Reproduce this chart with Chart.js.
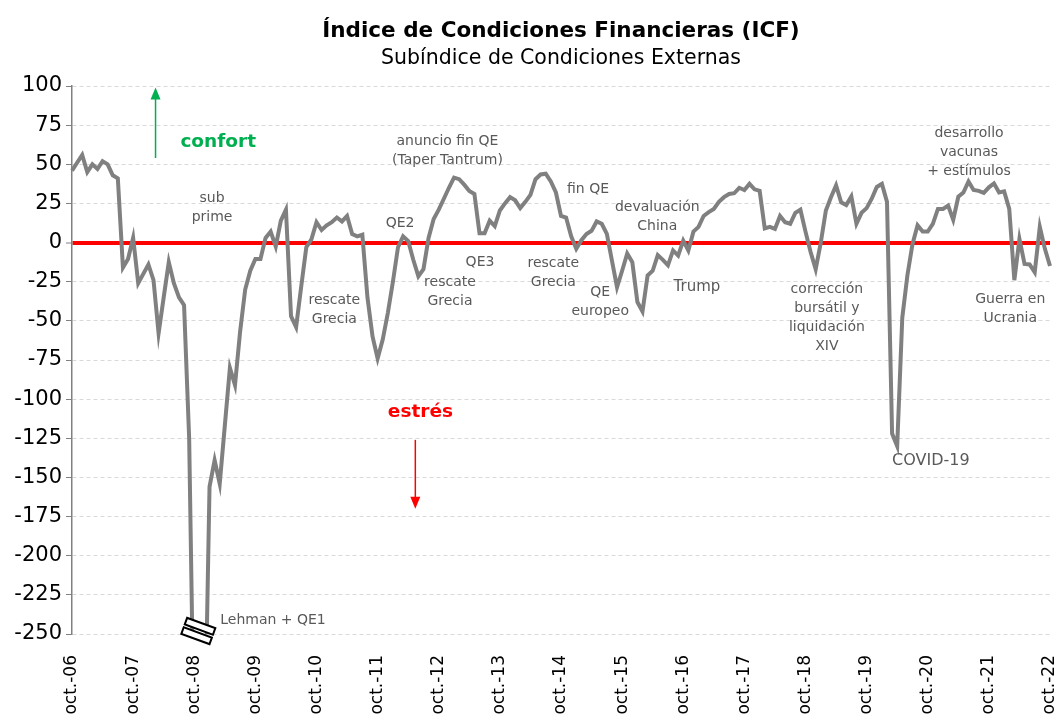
<!DOCTYPE html>
<html>
<head>
<meta charset="utf-8">
<script src="https://cdn.jsdelivr.net/npm/chart.js"></script>
<style>
  body { margin: 0; padding: 0; background: #ffffff; }
  canvas { display: block; }
</style>
</head>
<body>
<canvas id="icfChart" width="1062" height="715"></canvas>
<script>
  // Subíndice de condiciones externas, mensual, oct-06 .. oct-22
  const icf = [
    46, 51, 56, 45, 50, 47, 52, 50, 43, 41, -16, -10.5,
    3, -26, -20, -14, -24, -58, -35, -12.5, -26, -35, -40, -125,
    -330, -330, -330, -156, -139, -154, -117, -80, -91, -57, -30, -18,
    -10.5, -10.5, 3, 7, -2.5, 14, 21, -47, -54, -28, -3, 2,
    13, 8, 11, 13, 16, 13.5, 17, 5.5, 4, 5, -35, -60,
    -74, -62, -45, -25, -3, 4, 1, -11, -21.5, -17, 3, 15,
    21, 28, 35, 41.5, 40.5, 37, 33, 31, 6, 6, 14, 10.5,
    20.5, 25, 29, 27, 22, 26, 30.5, 40.5, 43.5, 44, 39, 32,
    17, 16, 4, -4, 1.5, 5.5, 7.5, 13.5, 12, 5.5, -11.5, -28.5,
    -18, -7, -12.5, -38, -44, -21, -18, -8, -11, -14.5, -5, -8.3,
    1.3, -5, 7, 10, 17, 19.5, 21.5, 26, 29, 31, 31.5, 35,
    33.6, 37.5, 34, 33, 9, 10, 8.7, 17, 13, 12, 19, 21,
    7, -6, -17, 0, 20.5, 29, 36.5, 25.7, 24, 29.5, 12, 19,
    22, 28, 35.5, 37.5, 26, -122, -130, -48, -21, -1, 11, 7,
    7, 12, 21.5, 21.5, 23.6, 14.5, 29.3, 32, 39, 33.6, 33, 31.7,
    35.3, 37.8, 32, 32.7, 21.5, -24, 2.4, -13.6, -14, -19, 10, -4,
    -15
  ];

  const meses = ['ene.', 'feb.', 'mar.', 'abr.', 'may.', 'jun.', 'jul.', 'ago.', 'sep.', 'oct.', 'nov.', 'dic.'];
  const mesInicio = 9;   // octubre
  const anioInicio = 6;  // 2006

  const etiquetas = icf.map((_, i) => {
    const m = (mesInicio + i) % 12;
    const a = anioInicio + Math.floor((mesInicio + i) / 12);
    return meses[m] + '-' + String(a).padStart(2, '0');
  });

  // textos sobre el grafico: m = mes (indice), v = valor del eje
  const notas = [
    { m: 27.5, v: 28, txt: ['sub', 'prime'] },
    { m: 51.5, v: -37, txt: ['rescate', 'Grecia'] },
    { m: 64.4, v: 12.5, txt: ['QE2'] },
    { m: 73.7, v: 64.5, txt: ['anuncio fin QE', '(Taper Tantrum)'] },
    { m: 74.2, v: -25.5, txt: ['rescate', 'Grecia'] },
    { m: 80.1, v: -12.8, txt: ['QE3'] },
    { m: 94.5, v: -13.4, txt: ['rescate', 'Grecia'] },
    { m: 101.3, v: 33.8, txt: ['fin QE'] },
    { m: 103.7, v: -31.9, txt: ['QE', 'europeo'] },
    { m: 114.9, v: 22.3, txt: ['devaluación', 'China'] },
    { m: 122.7, v: -28.7, txt: ['Trump'], size: 15 },
    { m: 148.2, v: -30, txt: ['corrección', 'bursátil y', 'liquidación', 'XIV'] },
    { m: 168.6, v: -139.7, txt: ['COVID-19'], size: 16 },
    { m: 176.1, v: 69.5, txt: ['desarrollo', 'vacunas', '+ estímulos'] },
    { m: 184.2, v: -36, txt: ['Guerra en', 'Ucrania'] }
  ];

  const FUENTE = "'DejaVu Sans', Verdana, sans-serif";

  function flecha(ctx, x, y1, y2, color) {
    const dir = y2 < y1 ? -1 : 1;
    ctx.save();
    ctx.strokeStyle = color;
    ctx.fillStyle = color;
    ctx.lineWidth = 1.5;
    ctx.beginPath();
    ctx.moveTo(x, y1);
    ctx.lineTo(x, y2 - dir * 10);
    ctx.stroke();
    ctx.beginPath();
    ctx.moveTo(x, y2);
    ctx.lineTo(x - 5, y2 - dir * 12);
    ctx.lineTo(x + 5, y2 - dir * 12);
    ctx.closePath();
    ctx.fill();
    ctx.restore();
  }

  const extras = {
    id: 'extras',
    afterDatasetsDraw(chart) {
      const ctx = chart.ctx;
      const xs = chart.scales.x;
      const ys = chart.scales.y;

      ctx.save();
      ctx.fillStyle = '#595959';
      ctx.textAlign = 'center';
      ctx.textBaseline = 'middle';
      notas.forEach(n => {
        ctx.font = (n.size || 14) + 'px ' + FUENTE;
        const px = xs.getPixelForValue(n.m);
        const py = ys.getPixelForValue(n.v);
        n.txt.forEach((t, k) => ctx.fillText(t, px, py + k * 19));
      });

      // Lehman
      ctx.textAlign = 'left';
      ctx.font = '14px ' + FUENTE;
      ctx.fillText('Lehman + QE1', xs.getPixelForValue(29.1), ys.getPixelForValue(-241));

      // confort / estres
      ctx.textAlign = 'center';
      ctx.font = 'bold 18.5px ' + FUENTE;
      ctx.fillStyle = '#00b050';
      ctx.fillText('confort', xs.getPixelForValue(28.7), ys.getPixelForValue(64));
      ctx.fillStyle = '#ff0000';
      ctx.fillText('estrés', xs.getPixelForValue(68.4), ys.getPixelForValue(-108.5));
      ctx.restore();

      flecha(ctx, xs.getPixelForValue(16.4), ys.getPixelForValue(54), ys.getPixelForValue(99), '#00b050');
      flecha(ctx, xs.getPixelForValue(67.4), ys.getPixelForValue(-126), ys.getPixelForValue(-170), '#ff0000');

      // corte del eje (Lehman)
      const cx = xs.getPixelForValue(24.8);
      const cy = chart.chartArea.bottom - 3;
      ctx.save();
      ctx.translate(cx, cy);
      ctx.rotate(0.35);
      ctx.fillStyle = '#ffffff';
      ctx.strokeStyle = '#000000';
      ctx.lineWidth = 2;
      [-5, 5].forEach(off => {
        ctx.fillRect(-15, off - 3.5, 30, 7);
        ctx.strokeRect(-15, off - 3.5, 30, 7);
      });
      ctx.restore();
    }
  };

  new Chart(document.getElementById('icfChart'), {
    type: 'line',
    data: {
      labels: etiquetas,
      datasets: [{
        label: 'ICF externo',
        data: icf,
        borderColor: '#808080',
        borderWidth: 4,
        pointRadius: 0,
        tension: 0,
        fill: false,
        clip: { left: 5, top: 5, right: 5, bottom: 0 }
      }]
    },
    options: {
      responsive: false,
      animation: false,
      layout: { padding: { left: 0, right: 12, top: 0, bottom: 0 } },
      plugins: {
        legend: { display: false },
        tooltip: { enabled: false },
        // fullSize false: los titulos se centran sobre el area del grafico
        title: {
          display: true,
          fullSize: false,
          text: 'Índice de Condiciones Financieras (ICF)',
          color: '#000000',
          font: { family: FUENTE, size: 21.5, weight: 'bold' },
          padding: { top: 19, bottom: 2 }
        },
        subtitle: {
          display: true,
          fullSize: false,
          text: 'Subíndice de Condiciones Externas',
          color: '#000000',
          font: { family: FUENTE, size: 20.5 },
          padding: { top: 0, bottom: 14.6 }
        }
      },
      scales: {
        x: {
          type: 'category',
          offset: false,
          grid: { display: false },
          border: { display: false },
          ticks: {
            autoSkip: false,
            maxRotation: 90,
            minRotation: 90,
            padding: 13,
            color: '#000000',
            font: { family: FUENTE, size: 17 },
            callback: (val, i) => (i % 12 === 0 ? etiquetas[i] : null)
          },
          afterFit: s => { s.height = 81; s.paddingLeft = 0; s.paddingRight = 0; }
        },
        y: {
          min: -250,
          max: 100,
          ticks: {
            stepSize: 25,
            padding: 4,
            color: '#000000',
            font: { family: FUENTE, size: 21 }
          },
          grid: {
            color: c => (c.tick && c.tick.value === 0 ? '#ff0000' : '#d9d9d9'),
            lineWidth: c => (c.tick && c.tick.value === 0 ? 4 : 1),
            tickColor: '#808080',
            tickLength: 6,
            tickWidth: 1
          },
          border: {
            display: true,
            color: '#808080',
            width: 1.5,
            dash: c => (c.tick && c.tick.value === 0 ? [] : [4, 3])
          },
          afterFit: s => { s.width = 72; }
        }
      }
    },
    plugins: [extras]
  });
</script>
</body>
</html>
